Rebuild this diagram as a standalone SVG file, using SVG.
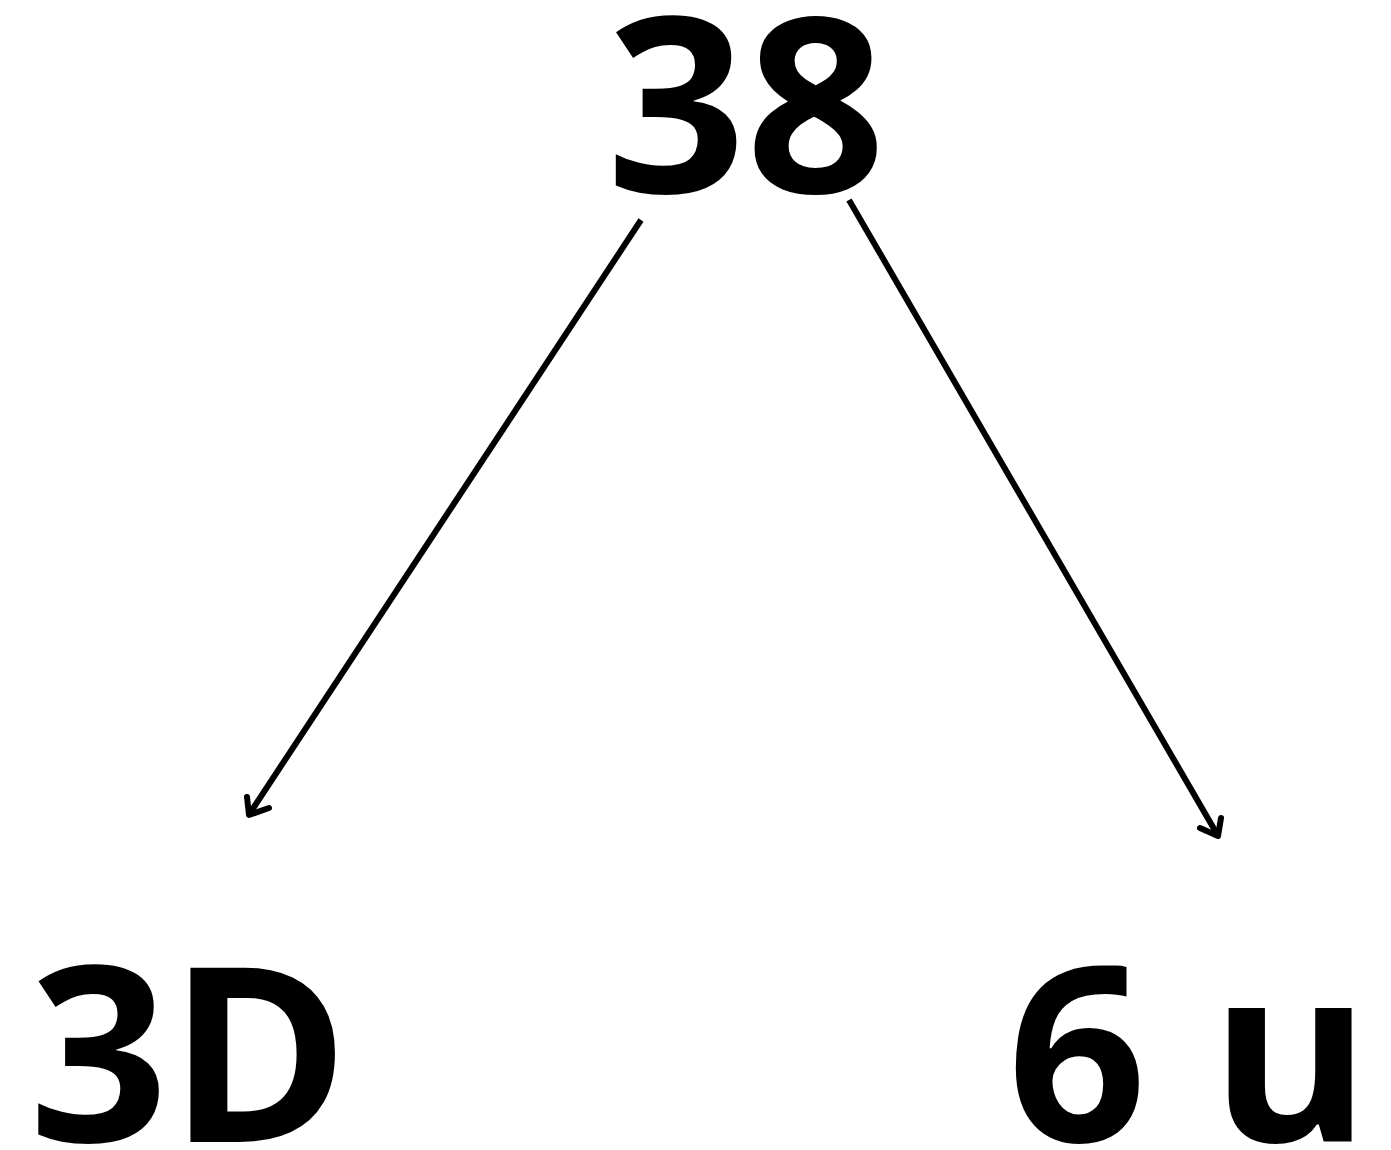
<svg xmlns="http://www.w3.org/2000/svg" width="1391" height="1150" viewBox="0 0 1391 1150">
<style>
.lbl{font-family:"Open Sans","DejaVu Sans",sans-serif;font-weight:700;font-size:244px;fill:#000}
.edge{stroke:#000;stroke-width:6;fill:none}
.head{stroke:#000;stroke-width:6;fill:none;stroke-linecap:round;stroke-linejoin:round}
</style>
<rect width="1391" height="1150" fill="#fff"/>
<g id="node-38"><text class="lbl" x="746" y="193" text-anchor="middle">38</text></g>
<g id="node-3D"><text class="lbl" x="189" y="1142" text-anchor="middle">3D</text></g>
<g id="node-6u"><text class="lbl" x="1189" y="1142" text-anchor="middle">6 u</text></g>
<g id="connectors">
<line class="edge" x1="641" y1="220" x2="250" y2="813"/>
<polyline class="head" points="247,797 249,815 269,808"/>
<line class="edge" x1="849" y1="200" x2="1217" y2="834"/>
<polyline class="head" points="1200,828 1218,836 1221,818"/>
</g>
</svg>
